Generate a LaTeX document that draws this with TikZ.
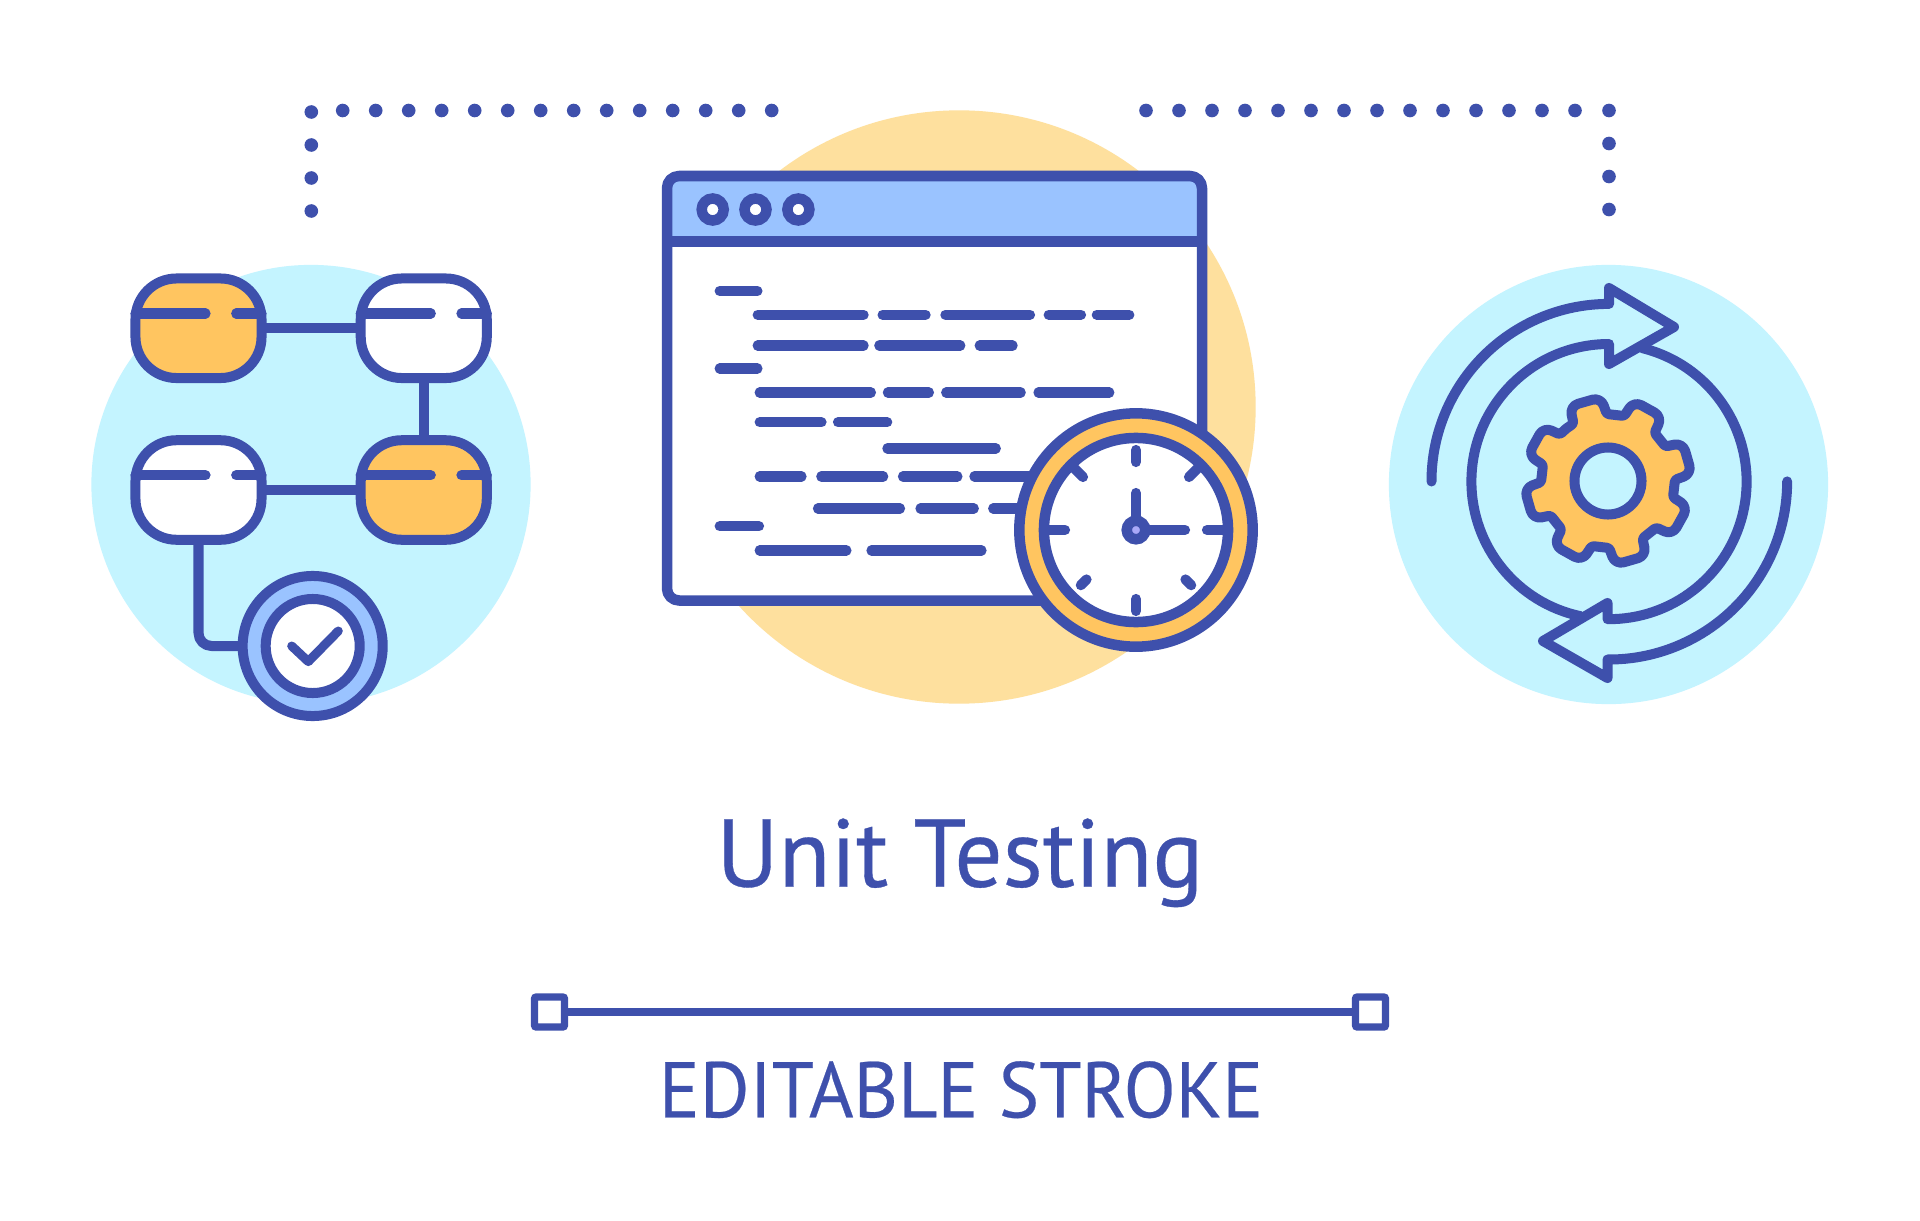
\documentclass[tikz,border=0pt]{standalone}
\usepackage{fontspec}
\setmainfont{PT Sans}
\newfontfamily\titlefont[FakeBold=0.35,FakeStretch=0.987]{PT Sans}
\newfontfamily\subfont[FakeBold=0.3,FakeStretch=0.968]{PT Sans}
\definecolor{ink}{HTML}{3E50AC}
\definecolor{sky}{HTML}{C4F4FF}
\definecolor{sand}{HTML}{FEE09E}
\definecolor{amber}{HTML}{FFC560}
\definecolor{hdr}{HTML}{9AC3FF}
\definecolor{pin}{HTML}{A9A8F8}
\tikzset{
  stroke/.style={draw=ink,line width=1mm,line join=round},
  seg/.style={draw=ink,line width=1.02mm,line cap=round},
  dotmark/.style={fill=ink},
  flowbox/.style={draw=ink,line width=1mm,rectangle,rounded corners=4.1mm,minimum width=12.6mm,minimum height=9.95mm,inner sep=0pt,outer sep=0pt},
  ring/.style={draw=ink,circle,inner sep=0pt,outer sep=0pt},
  endbox/.style={draw=ink,line width=.74mm,fill=white,rectangle,rounded corners=.2mm,minimum size=3mm,inner sep=0pt,outer sep=0pt},
  title/.style={text=ink,anchor=base,inner sep=0pt},
}
\newcommand{\codeseg}[3]{\draw[seg] (#2+5,#1) -- (#3-5,#1);}
\begin{document}
\begin{tikzpicture}[x=0.01cm,y=-0.01cm]
\useasboundingbox (0,0) rectangle (1920,1221);
\fill[white] (0,0) rectangle (1920,1221);
% backgrounds
\fill[sky] (311,484.5) circle[radius=21.95mm];
\fill[sky] (1608.5,484.5) circle[radius=21.95mm];
\fill[sand] (959,407) circle[radius=29.65mm];
% dotted frame
\foreach \i in {0,...,13} {
  \fill[dotmark] (342.7+33*\i,110.5) circle[radius=.68mm];
  \fill[dotmark] (1146+33*\i,110.5) circle[radius=.68mm];
}
\foreach \yy in {112,145,178,211} \fill[dotmark] (311.3,\yy) circle[radius=.68mm];
\foreach \yy in {110.5,143.5,176.5,209.5} \fill[dotmark] (1609,\yy) circle[radius=.68mm];
% flow boxes
\node[flowbox,fill=amber] (a) at (198.5,328.25) {};
\node[flowbox,fill=white] (b) at (423.75,328.25) {};
\node[flowbox,fill=white] (c) at (198.5,490) {};
\node[flowbox,fill=amber] (d) at (423.75,490) {};
\foreach \n in {a,b,c,d} {
  \draw[seg] ([yshift=1.47mm]\n.west) -- ([xshift=7mm,yshift=1.47mm]\n.west);
  \draw[seg] ([xshift=-2.53mm,yshift=1.47mm]\n.east) -- ([yshift=1.47mm]\n.east);
}
\node[ring,line width=1mm,fill=hdr,minimum size=14mm] (chk) at (312.7,646) {};
\node[ring,line width=1mm,fill=white,minimum size=9.4mm] (chkin) at (312.7,646) {};
\draw[stroke] (a.east) -- (b.west);
\draw[stroke] (b.south) -- (d.north);
\draw[stroke] (c.east) -- (d.west);
\draw[stroke,rounded corners=1.3mm] (c.south) |- (chk.west);
\draw[seg,line width=.9mm,line join=round] (291.7,646) -- (308.3,661.6) -- (338.3,631);
% window
\fill[white,rounded corners=1.2mm] (667,176) rectangle (1202,600.5);
\begin{scope}
  \clip[rounded corners=1.2mm] (667,176) rectangle (1202,600.5);
  \fill[hdr] (667,176) rectangle (1202,241.5);
\end{scope}
\draw[stroke,line width=1.05mm,rounded corners=1.2mm] (667,176) rectangle (1202,600.5);
\draw[stroke,line width=1.05mm] (667,241.5) -- (1202,241.5);
\foreach \n/\xx in {wa/712.7,wb/755.5,wc/798.4}
  \node[ring,line width=1.05mm,fill=white,minimum size=2.2mm] (\n) at (\xx,209.5) {};
% code lines
\codeseg{291}{714.7}{762.4}
\codeseg{314.7}{752.7}{868.6}\codeseg{314.7}{877.6}{930.6}\codeseg{314.7}{940.4}{1035}\codeseg{314.7}{1043.7}{1086}\codeseg{314.7}{1091.8}{1134.3}
\codeseg{345.6}{752.7}{868.6}\codeseg{345.6}{874.3}{965.3}\codeseg{345.6}{974.7}{1017.6}
\codeseg{368.5}{714.7}{762.4}
\codeseg{392.6}{754.7}{875.9}\codeseg{392.6}{882.9}{933.9}\codeseg{392.6}{941.2}{1025.7}\codeseg{392.6}{1033.5}{1114.3}
\codeseg{422.3}{754.7}{826.5}\codeseg{422.3}{833}{892.2}
\codeseg{448.4}{882.4}{1000.8}
\codeseg{476.4}{754.7}{806.5}\codeseg{476.4}{816.3}{888.2}\codeseg{476.4}{898}{962.4}\codeseg{476.4}{969.4}{1040}
\codeseg{508.5}{813}{905}\codeseg{508.5}{915.5}{978.8}\codeseg{508.5}{988.2}{1030}
\codeseg{526.3}{714.7}{764}
\codeseg{550.4}{754.7}{851.4}\codeseg{550.4}{866.5}{986.5}
% clock
\node[ring,line width=1.05mm,fill=amber,minimum size=23.32mm] (clk) at (1136,530) {};
\node[ring,line width=1.05mm,fill=white,minimum size=18.4mm] (face) at (1136,530) {};
\foreach \a/\ra/\rb in {0/71/88,180/71/88,90/69/81,-90/68/80,45/70/78,135/70/78,-45/75/88,-135/75/88}
  \draw[seg] ([shift={(1136,530)}]\a:\ra) -- ([shift={(1136,530)}]\a:\rb);
\draw[seg] (1136,530) -- (1136,493);
\draw[seg] (1136,530) -- (1185,530);
\node[ring,line width=1.05mm,fill=pin,minimum size=1.85mm] (hub) at (1136,530) {};
% cycle arrows
\draw[stroke,line cap=round] (1431.5,481.5) arc[start angle=180,end angle=90,radius=17.75mm]
  -- (1609,288) -- (1674,327) -- (1609,364) -- (1609,344)
  arc[start angle=90,end angle=258,radius=13.75mm];
\draw[stroke,line cap=round] (1642.3,348.1) arc[start angle=76,end angle=-90.6,radius=13.75mm]
  -- (1607.5,603) -- (1543,641) -- (1607.5,678) -- (1607.5,659.5)
  arc[start angle=-90.5,end angle=0,radius=17.8mm];
% gear
\draw[stroke,fill=amber] ([shift={(1608,481)}]-128.5:67)
  \foreach \a in {-106,-61,-16,29,74,119,164,209} {
    [rounded corners=.25mm] -- ([shift={(1608,481)}]\a-15:67) [rounded corners=.85mm] -- ([shift={(1608,481)}]\a-11:84)
    -- ([shift={(1608,481)}]\a+11:84) [rounded corners=.25mm] -- ([shift={(1608,481)}]\a+15:67)
  } -- cycle;
\node[ring,line width=1mm,fill=sky,minimum size=6.7mm] (axle) at (1608,481) {};
% caption
\node[title,font=\titlefont\fontsize{27.4}{30}\selectfont] (t1) at (960,886.7) {Unit Testing};
\node[endbox] (l) at (549.5,1012) {};
\node[endbox] (r) at (1370.5,1012) {};
\draw[draw=ink,line width=.72mm] (l.east) -- (r.west);
\node[title,font=\subfont\fontsize{22.4}{26}\selectfont] (t2) at (961,1117.3) {EDITABLE STROKE};
\end{tikzpicture}
\end{document}
